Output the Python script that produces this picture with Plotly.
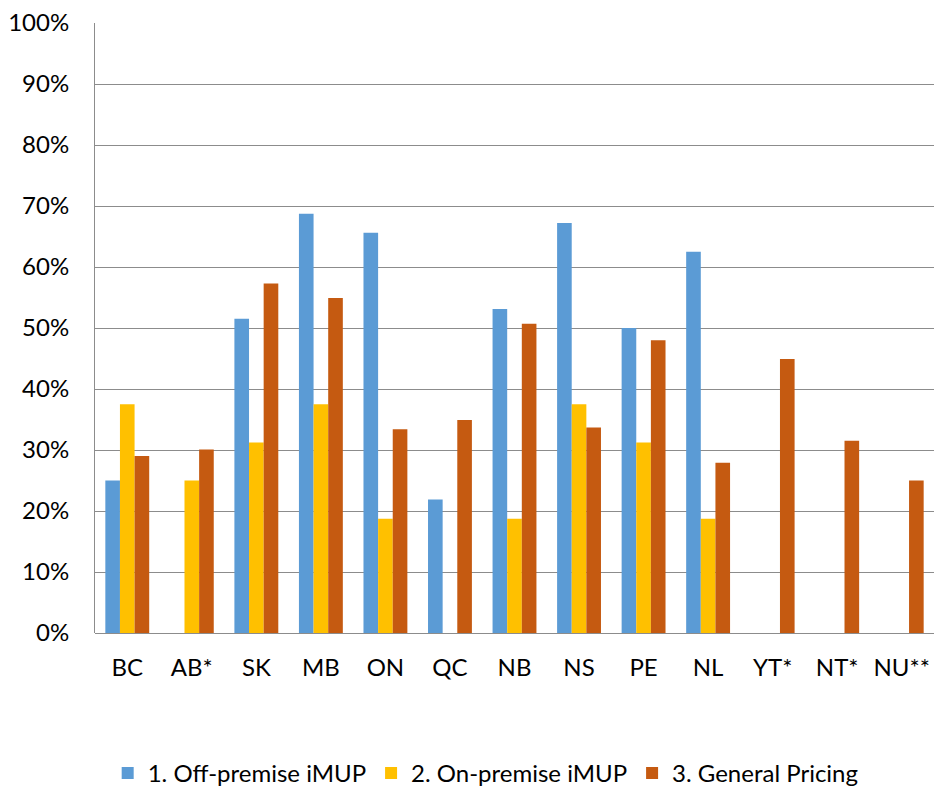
import plotly.graph_objects as go

categories = ["BC", "AB*", "SK", "MB", "ON", "QC", "NB", "NS", "PE", "NL", "YT*", "NT*", "NU**"]
off_premise = [25.0, None, 51.5, 68.75, 65.6, 21.9, 53.1, 67.2, 50.0, 62.5, None, None, None]
on_premise = [37.5, 25.0, 31.25, 37.5, 18.75, None, 18.75, 37.5, 31.25, 18.75, None, None, None]
general_pricing = [29.0, 30.1, 57.3, 54.9, 33.4, 34.9, 50.7, 33.7, 48.0, 27.9, 44.9, 31.5, 25.0]
series_names = ["1. Off-premise iMUP", "2. On-premise iMUP", "3. General Pricing"]
series_colors = ["#5B9BD5", "#FFC000", "#C55A11"]
y_ticks = [0, 10, 20, 30, 40, 50, 60, 70, 80, 90, 100]
y_tick_labels = [f"{v}%" for v in y_ticks]

fig = go.Figure()
for name, vals, col in zip(series_names, [off_premise, on_premise, general_pricing], series_colors):
    fig.add_trace(go.Bar(x=categories, y=vals, name=name, marker_color=col,
                         marker_line_width=0))

font_family = "Lato"
fig.update_layout(
    width=934, height=792,
    margin=dict(l=95, r=0, t=23, b=159),
    paper_bgcolor="white", plot_bgcolor="white",
    barmode="group", bargap=0.32, bargroupgap=0,
    font=dict(family=font_family, size=24, color="#000000"),
    showlegend=True,
    legend=dict(orientation="h", xref="container", yref="container",
                x=0.52, xanchor="center", y=0.0235, yanchor="middle",
                font=dict(size=24), itemwidth=30, traceorder="normal"),
    xaxis=dict(showgrid=False, showline=False, ticks="", ticklabelstandoff=18,
               tickfont=dict(size=24)),
    yaxis=dict(range=[0, 100], tickvals=y_ticks, ticktext=y_tick_labels,
               showgrid=True, gridcolor="#8C8C8C", gridwidth=1,
               showline=True, linecolor="#8C8C8C", linewidth=1,
               zeroline=True, zerolinecolor="#8C8C8C", zerolinewidth=1,
               ticks="", ticklabelstandoff=20, tickfont=dict(size=24)),
)
fig.write_html("out.html", config={"displayModeBar": False},
               post_script="document.body.style.margin='0';")
